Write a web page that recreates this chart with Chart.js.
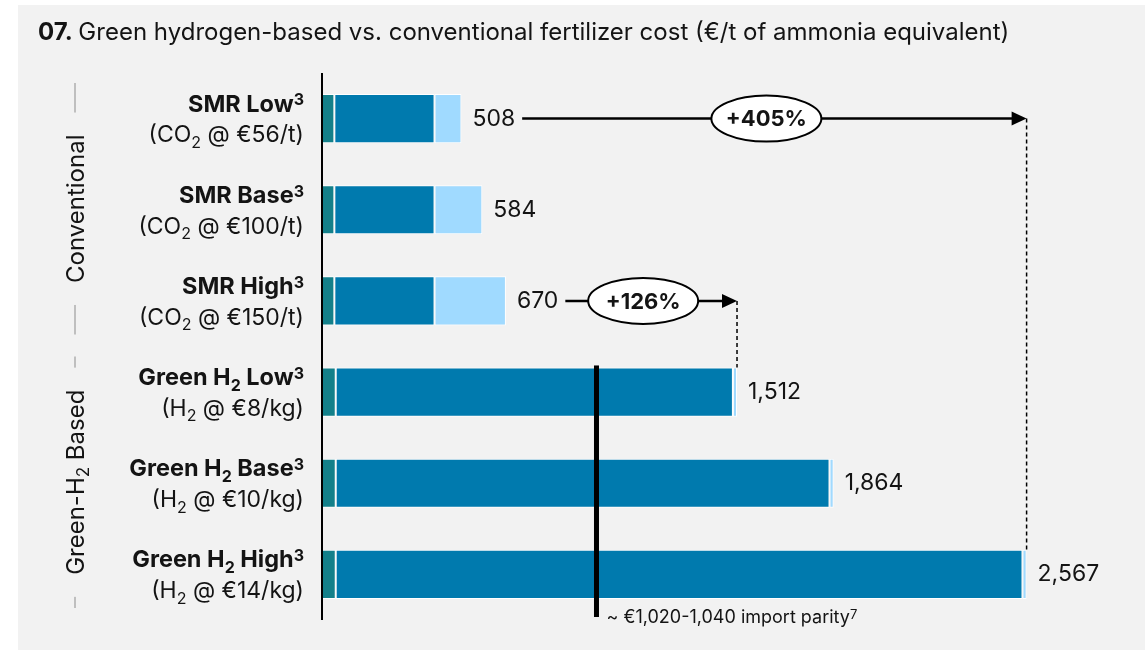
<!DOCTYPE html>
<html>
<head>
<meta charset="utf-8">
<script src="https://cdn.jsdelivr.net/npm/chart.js@4/dist/chart.umd.min.js"></script>
<style>
  html, body { margin: 0; padding: 0; background: #fff; }
  #wrap { width: 1145px; height: 651px; }
</style>
</head>
<body>
<div id="wrap"><canvas id="costChart" width="1145" height="651"></canvas></div>
<script>
// _x = subscript, ^x = superscript
const categories = ['SMR Low^3', 'SMR Base^3', 'SMR High^3', 'Green H_2 Low^3', 'Green H_2 Base^3', 'Green H_2 High^3'];
const subLabels = ['(CO_2 @ €56/t)', '(CO_2 @ €100/t)', '(CO_2 @ €150/t)', '(H_2 @ €8/kg)', '(H_2 @ €10/kg)', '(H_2 @ €14/kg)'];
const otherCost = [45, 45, 45, 50, 50, 50];
const mainCost = [365, 365, 365, 1447, 1799, 2502];
const topCost = [98, 174, 260, 15, 15, 15];
const totals = [508, 584, 670, 1512, 1864, 2567];
const groups = ['Conventional', 'Green-H_2 Based'];
const groupSizes = [3, 3];
const comparisons = [[0, 5], [2, 3]];   // [from, to] category index
const parityValue = 1000;
const parityLabel = '~ €1,020-1,040 import parity^7';

const FONT = 'Inter, "Open Sans", sans-serif';
const TEXT = '#141414';

function parseRich(str) {
  const segs = [];
  let buf = '';
  for (let i = 0; i < str.length; i++) {
    const c = str[i];
    if ((c === '_' || c === '^') && i + 1 < str.length) {
      if (buf) segs.push({ t: buf, k: 'n' });
      buf = '';
      segs.push({ t: str[i + 1], k: c === '_' ? 'sub' : 'sup' });
      i++;
    } else buf += c;
  }
  if (buf) segs.push({ t: buf, k: 'n' });
  return segs;
}

// draws text with sub/superscripts, y = vertical middle
function drawRich(ctx, str, x, y, size, weight, align) {
  const segs = parseRich(str);
  const small = Math.round(size * 0.7);
  let total = 0;
  segs.forEach(s => {
    ctx.font = `${weight} ${s.k === 'n' ? size : small}px ${FONT}`;
    s.w = ctx.measureText(s.t).width;
    total += s.w;
  });
  let cx = align === 'right' ? x - total : (align === 'center' ? x - total / 2 : x);
  const base = y + size * 0.36;
  ctx.textAlign = 'left';
  ctx.textBaseline = 'alphabetic';
  segs.forEach(s => {
    ctx.font = `${weight} ${s.k === 'n' ? size : small}px ${FONT}`;
    let dy = 0;
    if (s.k === 'sup') dy = -size * 0.26;
    if (s.k === 'sub') dy = size * 0.24;
    ctx.fillText(s.t, cx, base + dy);
    cx += s.w;
  });
  return total;
}

const fmt = v => v.toLocaleString('en-US');

const decor = {
  id: 'decor',
  beforeDraw(chart) {
    const ctx = chart.ctx;
    ctx.save();
    ctx.fillStyle = '#ffffff';
    ctx.fillRect(0, 0, chart.width, chart.height);
    ctx.fillStyle = '#f2f2f2';
    ctx.fillRect(18, 5, chart.width - 18, 645);
    ctx.restore();
  },
  afterDatasetsDraw(chart) {
    const ctx = chart.ctx;
    const xs = chart.scales.x, ys = chart.scales.y;
    const area = chart.chartArea;
    const band = (area.bottom - area.top) / categories.length;
    const barH = band * 0.54;
    ctx.save();
    ctx.fillStyle = TEXT;

    // title
    ctx.font = `bold 24px ${FONT}`;
    ctx.textBaseline = 'middle';
    ctx.textAlign = 'left';
    ctx.fillText('07.', 38, 33);
    const w07 = ctx.measureText('07. ').width;
    ctx.font = `24px ${FONT}`;
    ctx.fillText('Green hydrogen-based vs. conventional fertilizer cost (€/t of ammonia equivalent)', 38 + w07, 33);

    // axis line
    ctx.strokeStyle = '#000';
    ctx.lineWidth = 2;
    ctx.beginPath();
    ctx.moveTo(area.left, area.top);
    ctx.lineTo(area.left, area.bottom);
    ctx.stroke();

    // category labels
    categories.forEach((c, i) => {
      const y = ys.getPixelForValue(i);
      ctx.fillStyle = TEXT;
      drawRich(ctx, c, 304, y - 15.5, 23.5, 'bold', 'right');
      drawRich(ctx, subLabels[i], 304, y + 15.5, 23, 'normal', 'right');
    });

    // group labels with bracket lines
    let start = 0;
    groups.forEach((g, gi) => {
      const top = ys.getPixelForValue(start) - band / 2 + 10;
      const bot = ys.getPixelForValue(start + groupSizes[gi] - 1) + band / 2 - 12;
      const mid = (top + bot) / 2;
      const x = 75;
      ctx.save();
      ctx.translate(x, mid);
      ctx.rotate(-Math.PI / 2);
      ctx.fillStyle = TEXT;
      const tw = drawRich(ctx, g, 0, 0, 24, 'normal', 'center');
      ctx.restore();
      ctx.strokeStyle = '#8c8c8c';
      ctx.lineWidth = 1;
      ctx.beginPath();
      ctx.moveTo(x, top); ctx.lineTo(x, mid - tw / 2 - 22);
      ctx.moveTo(x, mid + tw / 2 + 22); ctx.lineTo(x, bot);
      ctx.stroke();
      start += groupSizes[gi];
    });

    // value labels
    const labelEnd = [];
    totals.forEach((v, i) => {
      const x = xs.getPixelForValue(v) + 11;
      const y = ys.getPixelForValue(i);
      ctx.fillStyle = TEXT;
      ctx.font = `23px ${FONT}`;
      ctx.textAlign = 'left';
      ctx.textBaseline = 'middle';
      ctx.fillText(fmt(v), x, y);
      labelEnd[i] = x + ctx.measureText(fmt(v)).width;
    });

    // comparison arrows
    comparisons.forEach(([a, b]) => {
      const y = ys.getPixelForValue(a);
      const x0 = labelEnd[a] + 7;
      const x1 = xs.getPixelForValue(totals[b]);
      ctx.strokeStyle = '#000';
      ctx.fillStyle = '#000';
      ctx.lineWidth = 2.5;
      ctx.beginPath();
      ctx.moveTo(x0, y); ctx.lineTo(x1 - 12, y);
      ctx.stroke();
      ctx.beginPath();
      ctx.moveTo(x1, y); ctx.lineTo(x1 - 15, y - 7); ctx.lineTo(x1 - 15, y + 7);
      ctx.closePath(); ctx.fill();
      // dashed drop line
      ctx.lineWidth = 1.5;
      ctx.setLineDash([4, 3]);
      ctx.beginPath();
      ctx.moveTo(x1, y); ctx.lineTo(x1, ys.getPixelForValue(b) - barH / 2);
      ctx.stroke();
      ctx.setLineDash([]);
      // ellipse badge
      const cx = (x0 + x1) / 2 - 8;
      ctx.beginPath();
      ctx.ellipse(cx, y, 55, 23, 0, 0, Math.PI * 2);
      ctx.fillStyle = '#fff';
      ctx.fill();
      ctx.lineWidth = 2;
      ctx.stroke();
      const pct = Math.round((totals[b] / totals[a] - 1) * 100);
      ctx.fillStyle = TEXT;
      ctx.font = `bold 22px ${FONT}`;
      ctx.textAlign = 'center';
      ctx.textBaseline = 'middle';
      ctx.fillText('+' + pct + '%', cx, y + 1);
    });

    // import parity line
    const px = xs.getPixelForValue(parityValue);
    const pTop = ys.getPixelForValue(3) - barH / 2 - 2;
    ctx.fillStyle = '#000';
    ctx.fillRect(px - 2.5, pTop, 5, area.bottom - 3 - pTop);
    ctx.fillStyle = TEXT;
    drawRich(ctx, parityLabel, px + 10, area.bottom - 3, 18, 'normal', 'left');

    ctx.restore();
  }
};

const ctx = document.getElementById('costChart').getContext('2d');
const barStyle = { borderColor: '#ffffff', borderWidth: 1, borderSkipped: false, barPercentage: 0.54, categoryPercentage: 1 };
new Chart(ctx, {
  type: 'bar',
  data: {
    labels: categories,
    datasets: [
      { label: 'Other', data: otherCost, backgroundColor: '#13808a', ...barStyle },
      { label: 'Main', data: mainCost, backgroundColor: '#007aae', ...barStyle },
      { label: 'Top', data: topCost, backgroundColor: '#a0daff', ...barStyle },
    ],
  },
  options: {
    indexAxis: 'y',
    responsive: false,
    animation: false,
    layout: { padding: { left: 322, right: 27, top: 73, bottom: 31 } },
    plugins: { legend: { display: false }, tooltip: { enabled: false } },
    scales: {
      x: { stacked: true, min: 0, max: 2900, display: false },
      y: { stacked: true, display: false },
    },
  },
  plugins: [decor],
});
</script>
</body>
</html>
